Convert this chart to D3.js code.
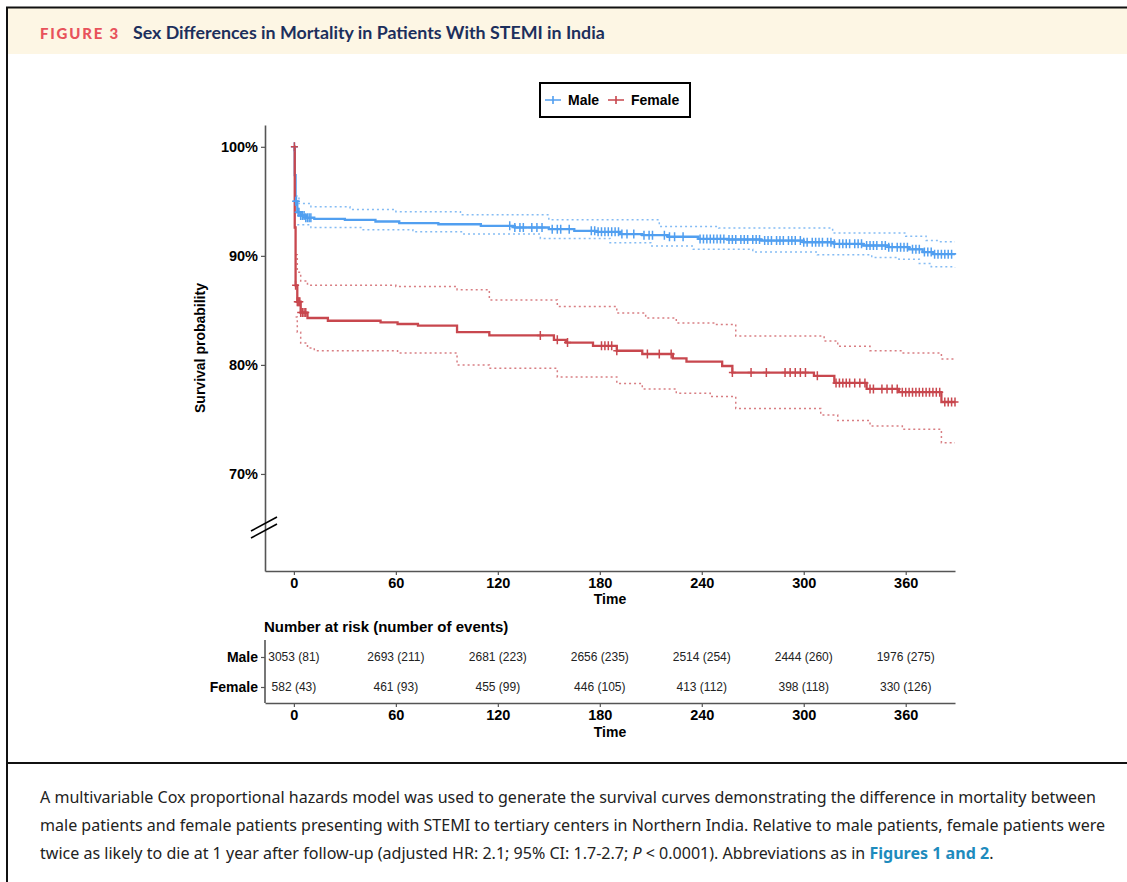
<!DOCTYPE html>
<html>
<head>
<meta charset="utf-8">
<script src="https://cdn.jsdelivr.net/npm/d3@7"></script>
<style>
  body { margin: 0; background: #fff; }
</style>
</head>
<body>
<svg id="chart"></svg>
<script>
// survival curves (time in days, survival in %)
let maleTime = [0, 0.5, 1, 2, 4, 7, 12, 30, 48, 62, 85, 110, 130, 150, 165, 178, 192, 205, 220, 238, 255, 275, 300, 318, 335, 350, 362, 370, 376, 389]
let maleSurv = [100, 97.4, 95.0, 94.0, 93.7, 93.5, 93.4, 93.3, 93.15, 93.0, 92.9, 92.75, 92.6, 92.45, 92.3, 92.2, 92.0, 91.9, 91.75, 91.55, 91.5, 91.4, 91.25, 91.1, 90.95, 90.8, 90.6, 90.35, 90.15, 90.1]

let maleUpTime = [1, 3, 10, 33, 60, 98, 150, 215, 250, 317, 360, 372, 380, 389]
let maleUp = [95.5, 94.8, 94.5, 94.25, 94.05, 93.76, 93.3, 92.7, 92.55, 92.1, 91.8, 91.4, 91.3, 91.3]
let maleLoTime = [2, 10, 40, 70, 100, 145, 186, 210, 235, 270, 308, 340, 356, 368, 375, 389]
let maleLo = [92.85, 92.6, 92.4, 92.2, 92.0, 91.6, 91.2, 90.9, 90.6, 90.35, 90.1, 89.85, 89.7, 89.3, 89.0, 88.95]

let femaleTime = [0, 0.5, 1, 2, 4, 8, 20, 51, 61, 73, 96, 115, 153, 160, 176, 190, 205, 223, 231, 252, 258, 306, 318, 337, 356, 381, 389]
let femaleSurv = [100, 92.6, 87.3, 85.8, 84.8, 84.3, 84.05, 83.9, 83.75, 83.6, 83.0, 82.7, 82.3, 82.05, 81.75, 81.3, 81.0, 80.6, 80.3, 79.9, 79.3, 79.0, 78.35, 77.8, 77.5, 76.6, 76.6]

let femaleUpTime = [1, 2, 4, 8, 60, 96, 115, 155, 190, 207, 225, 248, 260, 312, 320, 339, 358, 381, 389]
let femaleUp = [90.1, 88.5, 87.7, 87.3, 87.2, 86.9, 85.96, 85.35, 84.75, 84.3, 83.85, 83.7, 82.65, 82.2, 81.7, 81.3, 81.1, 80.55, 80.55]
let femaleLoTime = [1, 2, 4, 8, 12, 61, 96, 115, 155, 190, 205, 225, 245, 260, 310, 320, 339, 358, 381, 389]
let femaleLo = [84.4, 83.0, 82.0, 81.55, 81.3, 81.1, 80.0, 79.7, 78.9, 78.3, 77.8, 77.4, 77.1, 76.0, 75.4, 74.9, 74.4, 74.1, 72.85, 72.85]

// censoring marks (days)
let maleCensor = [0.3, 1, 1.5, 2.5, 3, 4, 5, 6, 7, 8, 9, 10, 127, 130, 133, 135, 140, 143, 146, 152, 155, 157, 162, 175, 177, 179, 181, 183, 185, 187, 189, 191, 193, 196, 200, 206, 209, 211, 218, 221, 224, 229,
  239, 241, 243, 245, 247, 249, 251, 253, 256, 258, 260, 263, 265, 267, 270, 272, 274, 277, 279, 281, 284, 286, 288, 291, 293, 295, 298, 300, 302, 305, 307, 309, 311, 314, 316, 318, 321, 323, 325, 327, 330, 332, 334, 337, 339, 341, 343, 346, 348, 350, 352, 355, 357, 359, 361, 364, 366, 368, 371, 373, 375, 377, 379, 381, 383, 385, 387]
let femaleCensor = [0.3, 1, 2, 2.5, 3, 3.5, 4, 5, 6, 7, 145, 155, 161, 181, 183, 185, 187, 190, 208, 215, 222, 258, 269, 278, 289, 292, 295, 298, 301, 308,
  319, 321, 323, 325, 327, 330, 333, 336, 339, 341, 346, 349, 352, 355, 358, 360, 362, 364, 366, 368, 370, 372, 374, 376, 378, 380, 383, 385, 387, 389]

let timeTicks = [0, 60, 120, 180, 240, 300, 360]
let survTicks = [70, 80, 90, 100]
let groups = ['Male', 'Female']
let maleRisk = ['3053 (81)', '2693 (211)', '2681 (223)', '2656 (235)', '2514 (254)', '2444 (260)', '1976 (275)']
let femaleRisk = ['582 (43)', '461 (93)', '455 (99)', '446 (105)', '413 (112)', '398 (118)', '330 (126)']

let width = 1127
let height = 882
let blue = '#519ff0'
let red = '#c8474e'
let axisColor = '#555'
let plotFont = '"Liberation Sans", Arial, sans-serif'
let captionFont = '"Noto Sans", "Open Sans", sans-serif'

let svg = d3.select('#chart').attr('width', width).attr('height', height)
    .style('font-family', plotFont)

// squeeze or stretch a text's font size so it spans the given width
const fitWidth = (sel, target) => {
    let size = parseFloat(sel.style('font-size'))
    let len = sel.node().getComputedTextLength()
    sel.style('font-size', (size * target / len) + 'px')
}

// frame and header band
svg.append('rect').attr('x', 8).attr('y', 8).attr('width', width - 8).attr('height', 46).attr('fill', '#fdf6e4')
svg.append('path').attr('d', 'M7,882V7.5H1127').attr('fill', 'none').attr('stroke', '#111').attr('stroke-width', 2)
svg.append('line').attr('x1', 7).attr('x2', width).attr('y1', 763).attr('y2', 763).attr('stroke', '#111').attr('stroke-width', 2)

let figLabel = svg.append('text').attr('x', 40).attr('y', 39)
    .style('font-family', 'Lato, sans-serif').style('font-weight', 900).style('font-size', '14px')
    .attr('letter-spacing', 1.8).attr('fill', '#e8525b').text('FIGURE 3')
fitWidth(figLabel, 81)
let title = svg.append('text').attr('x', 133).attr('y', 39)
    .style('font-family', 'Lato, sans-serif').style('font-weight', 700).style('font-size', '16px')
    .attr('fill', '#1c2f5c').text('Sex Differences in Mortality in Patients With STEMI in India')
fitWidth(title, 472)

// scales
let xScale = d3.scaleLinear().domain([-17, 389]).range([265, 955])
let yScale = d3.scaleLinear().domain([61.1, 102]).range([571, 125])

const stepAt = (times, vals, t) => {
    let i = d3.bisectRight(times, t) - 1
    return vals[Math.max(0, i)]
}

const drawCurve = (times, vals, color, dotted) => {
    let line = d3.line()
        .x((d, i) => xScale(times[i]))
        .y(d => yScale(d))
        .curve(d3.curveStepAfter)
    svg.append('path')
        .datum(vals)
        .attr('d', line)
        .attr('fill', 'none')
        .attr('stroke', color)
        .attr('stroke-width', dotted ? 1.5 : 2.3)
        .attr('stroke-dasharray', dotted ? '2,3' : null)
        .attr('opacity', dotted ? 0.7 : 1)
}

const drawCensor = (censor, times, vals, color) => {
    svg.append('g').selectAll('path')
        .data(censor)
        .enter()
        .append('path')
        .attr('transform', t => 'translate(' + xScale(t) + ',' + yScale(stepAt(times, vals, t)) + ')')
        .attr('d', 'M-3.5,0H3.5M0,-4.5V4.5')
        .attr('stroke', color)
        .attr('stroke-width', 1.5)
}

drawCurve(maleUpTime, maleUp, blue, true)
drawCurve(maleLoTime, maleLo, blue, true)
drawCurve(femaleUpTime, femaleUp, red, true)
drawCurve(femaleLoTime, femaleLo, red, true)
drawCurve(maleTime, maleSurv, blue, false)
drawCurve(femaleTime, femaleSurv, red, false)
drawCensor(maleCensor, maleTime, maleSurv, blue)
drawCensor(femaleCensor, femaleTime, femaleSurv, red)

// axes
const styleAxis = (g) => {
    g.attr('font-family', null).attr('font-size', null)
    g.selectAll('.domain').attr('stroke', axisColor).attr('stroke-width', 1.6)
    g.selectAll('.tick line').attr('stroke', axisColor).attr('stroke-width', 1.2)
    g.selectAll('.tick text').attr('fill', '#000').style('font-weight', 'bold').style('font-size', '14.5px')
}

let xAxis = d3.axisBottom(xScale).tickValues(timeTicks).tickSize(4).tickSizeOuter(0).tickPadding(3)
svg.append('g').attr('transform', 'translate(0,571)').call(xAxis).call(styleAxis)

let yAxis = d3.axisLeft(yScale).tickValues(survTicks).tickFormat(d => d + '%').tickSize(4).tickSizeOuter(0).tickPadding(3)
svg.append('g').attr('transform', 'translate(265,0)').call(yAxis).call(styleAxis)

// axis break
svg.append('path').attr('d', 'M251,531L277,517M251,538L277,524').attr('stroke', '#000').attr('stroke-width', 1.6)

svg.append('text').attr('x', 610).attr('y', 604).attr('text-anchor', 'middle')
    .style('font-weight', 'bold').style('font-size', '14px').text('Time')
svg.append('text').attr('transform', 'translate(205,348) rotate(-90)').attr('text-anchor', 'middle')
    .style('font-weight', 'bold').style('font-size', '14px').text('Survival probability')

// legend
let legend = svg.append('g')
legend.append('rect').attr('x', 540).attr('y', 83).attr('width', 150).attr('height', 34)
    .attr('fill', '#fff').attr('stroke', '#000').attr('stroke-width', 2)
let legendItems = [{ name: groups[0], color: blue, x: 545 }, { name: groups[1], color: red, x: 608 }]
legendItems.forEach(item => {
    legend.append('path').attr('d', 'M' + item.x + ',100h16M' + (item.x + 8) + ',96v8')
        .attr('stroke', item.color).attr('stroke-width', 1.6)
    legend.append('text').attr('x', item.x + 23).attr('y', 105).style('font-weight', 'bold')
        .style('font-size', '14px').text(item.name)
})

// risk table
svg.append('text').attr('x', 264).attr('y', 632).style('font-weight', 'bold').style('font-size', '15px')
    .text('Number at risk (number of events)')

let riskY = d3.scalePoint().domain(groups).range([657, 687])
let riskAxisX = d3.axisBottom(xScale).tickValues(timeTicks).tickSize(4).tickSizeOuter(0).tickPadding(3)
svg.append('g').attr('transform', 'translate(0,703)').call(riskAxisX).call(styleAxis)
let riskAxisY = d3.axisLeft(riskY).tickSize(4).tickSizeOuter(0).tickPadding(3)
let ry = svg.append('g').attr('transform', 'translate(265,0)').call(riskAxisY).call(styleAxis)
ry.select('.domain').attr('d', 'M0,640V703')
ry.selectAll('.tick text').style('font-size', '14px')

let riskRows = [maleRisk, femaleRisk]
riskRows.forEach((row, r) => {
    svg.append('g').selectAll('text')
        .data(row)
        .enter()
        .append('text')
        .attr('x', (d, i) => xScale(timeTicks[i]))
        .attr('y', riskY(groups[r]) + 4)
        .attr('text-anchor', 'middle')
        .style('font-size', '12px')
        .attr('fill', '#222')
        .text(d => d)
})

svg.append('text').attr('x', 610).attr('y', 737).attr('text-anchor', 'middle')
    .style('font-weight', 'bold').style('font-size', '14px').text('Time')

// caption
let caption = svg.append('g').style('font-family', captionFont).style('font-size', '15px').attr('fill', '#222')
let line1 = caption.append('text').attr('x', 40).attr('y', 803)
    .text('A multivariable Cox proportional hazards model was used to generate the survival curves demonstrating the difference in mortality between')
let line2 = caption.append('text').attr('x', 40).attr('y', 831)
    .text('male patients and female patients presenting with STEMI to tertiary centers in Northern India. Relative to male patients, female patients were')
let last = caption.append('text').attr('x', 40).attr('y', 859)
last.append('tspan').text('twice as likely to die at 1 year after follow-up (adjusted HR: 2.1; 95% CI: 1.7-2.7; ')
last.append('tspan').style('font-style', 'italic').text('P')
last.append('tspan').text(' < 0.0001). Abbreviations as in ')
last.append('tspan').style('font-weight', 'bold').attr('fill', '#1e8bbd').text('Figures 1 and 2')
last.append('tspan').text('.')

// match the caption's line length to the reference (first line ~1057px)
let capScale = 1057 / line1.node().getComputedTextLength()
caption.style('font-size', (15 * capScale) + 'px')
</script>
</body>
</html>
